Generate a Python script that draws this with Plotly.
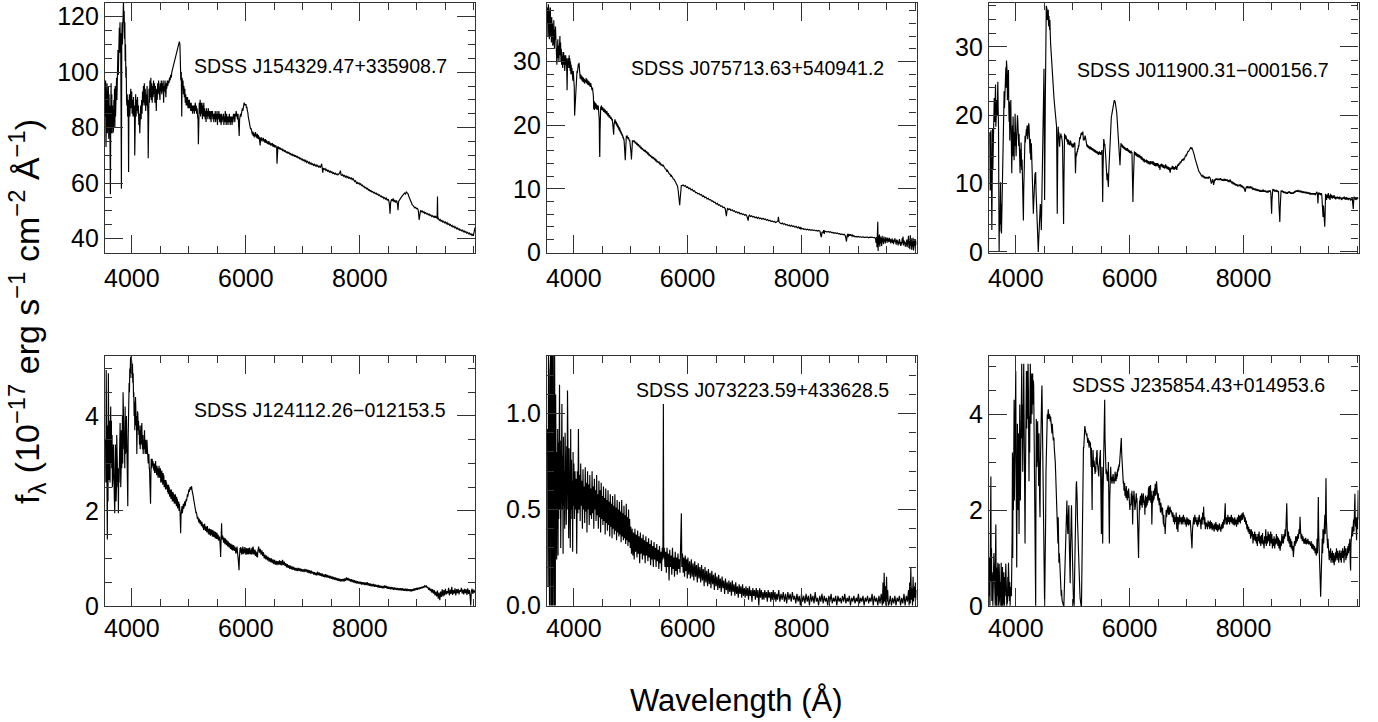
import plotly.graph_objects as go

W, H = 1378, 722
FONT = "Liberation Sans, Arial, Helvetica, sans-serif"

# ---------------- data (wavelength in Angstrom, flux in 1e-17 erg/s/cm2/A) ----------------
names = ["SDSS J154329.47+335908.7", "SDSS J075713.63+540941.2", "SDSS J011900.31\u2212000156.7",
         "SDSS J124112.26\u2212012153.5", "SDSS J073223.59+433628.5", "SDSS J235854.43+014953.6"]

x_range = [3530, 10020]
x_ticks = [4000, 6000, 8000]
y_ranges = [[34.85, 124.9], [-0.1, 39.2], [-0.15, 36.4], [-0.003, 5.27], [-0.003, 1.302], [-0.003, 5.22]]
y_dtick = [20, 10, 10, 2, 0.5, 2]
y_minor = [5, 2, 2, 0.5, 0.1, 0.5]

spec_1 = [
(3535,84),(3541,97),(3547,73),(3553,95),(3559,80),(3565,96),(3571,78),(3577,90),(3583,82),(3589,95),
(3595,76),(3601,92),(3607,79),(3613,88),(3619,70),(3625,56),(3631,86),(3637,96),(3643,78),(3649,92),
(3655,80),(3661,88),(3667,78),(3673,85),(3679,79),(3685,90),(3691,82),(3697,94),(3703,80),(3709,95),
(3715,84),(3721,92),(3727,86),(3733,98),(3739,90),(3745,102),(3751,94),(3757,108),(3763,99),(3769,112),
(3775,104),(3781,116),(3787,107),(3793,118),(3799,110),(3805,114),(3811,100),(3818,58),(3824,112),(3830,118),
(3836,110),(3842,124),(3848,116),(3854,126),(3860,118),(3866,122),(3872,112),(3878,118),(3884,104),(3890,110),
(3896,98),(3902,102),(3908,90),(3914,88),(3920,92),(3926,84),(3932,90),(3938,86),(3944,64),(3950,88),
(3958,92),(3966,84),(3974,90),(3982,94),(3990,87),(3998,93),(4006,85),(4014,90),(4022,84),(4030,91),
(4038,84),(4046,88),(4052,70),(4060,86),(4068,92),(4076,84),(4084,90),(4092,86),(4100,91),(4108,85),
(4116,88),(4124,81),(4132,85),(4140,78),(4148,84),(4156,88),(4164,83),(4172,90),(4180,85),(4188,93),
(4196,88),(4204,95),(4212,89),(4220,96),(4228,88),(4236,94),(4244,86),(4252,92),(4260,88),(4268,95),
(4276,90),(4283,84),(4288,69),(4294,88),(4302,94),(4310,89),(4318,97),(4326,91),(4334,98),(4342,90),
(4350,96),(4358,89),(4366,95),(4374,91),(4382,97),(4390,92),(4398,96),(4406,89),(4414,95),(4422,91),
(4430,86),(4438,94),(4446,90),(4454,96),(4462,92),(4470,97),(4478,93),(4486,95),(4494,90),(4502,96),
(4510,93),(4518,97),(4526,92),(4534,96),(4542,93),(4550,97),(4558,89),(4566,95),(4574,93),(4582,97),
(4590,94),(4598,91),(4606,96),(4614,94),(4622,97),(4632,95),(4642,97),(4652,96),(4662,98),(4672,97),
(4682,99),(4692,98),(4702,100),(4714,101),(4726,102),(4738,104),(4750,105),(4762,106),(4774,107),(4786,108),
(4798,108),(4810,109),(4822,110),(4834,111),(4844,110),(4852,104),(4860,97),(4868,100),(4876,84),(4883,98),
(4890,95),(4898,97),(4906,92),(4914,95),(4922,91),(4930,94),(4938,89),(4946,92),(4954,88),(4962,91),
(4970,88),(4978,91),(4986,87),(4994,90),(5002,87),(5010,90),(5018,87),(5026,89),(5034,86),(5042,89),
(5050,86),(5058,88),(5066,85),(5074,88),(5082,86),(5090,88),(5098,85),(5106,87),(5114,89),(5122,86),
(5130,88),(5138,85),(5146,87),(5154,84),(5162,83),(5168,74),(5175,84),(5183,89),(5191,85),(5199,90),
(5207,84),(5215,89),(5223,85),(5231,89),(5239,83),(5247,88),(5255,84),(5263,89),(5271,84),(5279,87),
(5287,83),(5295,86),(5303,82),(5311,87),(5319,84),(5327,86),(5335,83),(5343,87),(5351,84),(5359,86),
(5367,83),(5375,86),(5383,84),(5391,82),(5399,86),(5407,84),(5415,86),(5423,83),(5431,85),(5439,82),
(5447,85),(5455,83),(5463,86),(5471,82),(5479,85),(5487,83),(5495,86),(5503,81),(5511,85),(5519,83),
(5527,86),(5535,84),(5543,82),(5551,85),(5559,83),(5567,81),(5575,85),(5583,82),(5591,84),(5599,83),
(5607,85),(5615,81),(5623,84),(5631,82),(5639,86),(5647,83),(5655,81),(5663,85),(5671,82),(5679,84),
(5687,81),(5695,84),(5703,82),(5711,85),(5719,83),(5727,81),(5735,84),(5743,82),(5751,84),(5759,81),
(5767,84),(5775,82),(5783,85),(5791,83),(5799,85),(5807,82),(5815,85),(5823,84),(5831,86),(5839,84),
(5847,85),(5855,83),(5863,85),(5870,82),(5877,79),(5884,77),(5891,83),(5899,84),(5907,85),(5915,84),
(5923,86),(5931,85),(5939,87),(5947,86),(5955,88),(5963,87.5),(5971,89),(5979,88),(5987,88.5),(5995,88),
(6003,88.5),(6011,87),(6019,87.5),(6027,86),(6035,85.5),(6043,84),(6051,83),(6059,82),(6067,81),(6075,80.5),
(6083,79.5),(6091,79.8),(6099,78.5),(6107,79.2),(6115,77.5),(6123,78.6),(6131,77),(6139,78.2),(6147,76.5),(6155,77.8),
(6163,77),(6171,78.4),(6179,76.6),(6187,77.6),(6195,76.2),(6203,77.8),(6211,76),(6219,77.3),(6227,75.8),(6235,76.8),
(6243,75),(6251,73.6),(6259,76.4),(6267,75.4),(6275,76.5),(6283,75),(6291,76),(6299,75.4),(6307,76.3),(6315,75),
(6325,75.8),(6335,74.6),(6345,75.9),(6355,74.5),(6365,75.4),(6375,74.2),(6385,75),(6395,74),(6405,75.2),(6415,73.9),
(6425,74.6),(6435,73.5),(6445,74.3),(6455,73.6),(6465,74.4),(6475,73.2),(6485,74.1),(6495,73),(6505,73.8),(6515,72.9),
(6525,73.6),(6535,72.7),(6541,73.1),(6547,67),(6553,72.6),(6563,73.3),(6573,72.4),(6583,73),(6593,72.2),(6603,72.8),
(6618,72),(6633,72.5),(6648,71.6),(6663,72.1),(6678,71.3),(6693,71.8),(6708,70.9),(6723,71.4),(6738,70.7),(6753,71.2),
(6768,70.4),(6783,70.8),(6798,70),(6813,70.6),(6828,69.8),(6843,70.3),(6858,69.5),(6873,70),(6888,69.3),(6903,69.8),
(6918,69),(6933,69.4),(6948,68.6),(6963,69.1),(6978,68.3),(6993,68.8),(7008,68),(7023,68.5),(7038,67.8),(7053,68.2),
(7068,67.5),(7083,67.9),(7098,67.2),(7113,67.6),(7128,66.9),(7143,67.3),(7158,66.6),(7173,67.1),(7188,66.4),(7203,66.8),
(7218,66.2),(7233,66.6),(7248,66),(7263,66.4),(7278,65.8),(7293,66.1),(7308,65.6),(7320,66.9),(7330,67),(7340,65.5),
(7350,63.8),(7360,65.4),(7375,65),(7390,65.3),(7405,64.6),(7420,64.9),(7435,64.3),(7450,64.6),(7465,64),(7480,64.4),
(7495,63.8),(7510,64.1),(7525,63.5),(7540,63.8),(7555,63.3),(7570,63.6),(7585,63.1),(7600,63.4),(7615,63),(7630,63.3),
(7645,63.6),(7660,64.5),(7670,63),(7685,62.8),(7700,63.1),(7715,62.5),(7730,62.8),(7745,62.2),(7760,62.6),(7775,62),
(7790,62.4),(7805,61.8),(7820,62.1),(7835,61.6),(7850,61.9),(7865,61.3),(7880,61.7),(7895,61.1),(7910,60.6),(7925,60.9),
(7940,60),(7955,60.3),(7970,59.7),(7985,60.2),(8000,59.5),(8015,59.8),(8030,59.1),(8045,59.3),(8060,58.7),(8075,58.9),
(8090,58.3),(8105,58.5),(8120,57.9),(8135,58.1),(8150,57.5),(8165,57.7),(8180,57.1),(8195,57.3),(8210,56.8),(8225,57),
(8240,56.5),(8255,56.7),(8270,56.2),(8285,56.4),(8300,55.9),(8315,56.1),(8330,55.6),(8345,55.8),(8360,55.2),(8375,55.4),
(8390,54.9),(8405,55.1),(8420,54.5),(8435,54.8),(8450,54.2),(8465,54.6),(8480,53.9),(8495,54.3),(8510,53.5),(8520,52),
(8530,49),(8540,53),(8555,54.2),(8570,53.6),(8585,54.5),(8600,53.2),(8615,54),(8630,53),(8645,53.8),(8660,52.5),
(8670,50.3),(8680,53.4),(8695,54.1),(8710,54.4),(8725,54.9),(8740,55.3),(8755,55.6),(8770,56),(8785,56.4),(8800,56.1),
(8815,56.8),(8830,56.5),(8845,56.2),(8860,55.2),(8875,54.4),(8890,53.5),(8905,52.8),(8920,52.2),(8935,51.9),(8950,51.5),
(8965,51.1),(8980,51.3),(8995,50.8),(9010,50.9),(9025,50.3),(9040,46.8),(9050,49.6),(9065,50.2),(9080,49.7),(9095,50),
(9110,49.4),(9125,49.7),(9140,49.1),(9155,49.4),(9170,48.9),(9185,49.1),(9200,48.6),(9215,48.9),(9230,48.3),(9245,48.6),
(9260,48),(9275,48.3),(9290,47.8),(9305,48.1),(9320,47.5),(9330,48.2),(9340,47.6),(9355,47.4),(9362,55.2),(9368,47),
(9380,47.3),(9395,46.6),(9410,46.9),(9425,46.3),(9440,46.6),(9455,46),(9470,46.3),(9485,45.7),(9500,46),(9515,45.4),
(9530,45.8),(9545,45.1),(9560,45.4),(9575,44.8),(9590,45.1),(9605,44.5),(9620,44.8),(9635,44.2),(9650,44.5),(9665,43.9),
(9680,44.2),(9695,43.6),(9710,43.9),(9725,43.3),(9740,43.6),(9755,43),(9770,43.3),(9785,42.8),(9800,43.1),(9815,42.5),
(9830,42.8),(9845,42.3),(9860,42.6),(9875,42),(9890,42.3),(9905,41.8),(9920,42.1),(9935,41.5),(9950,41.8),(9965,41.2),
(9980,41.5),(9990,41),(10000,42.5),(10010,43.5),(10020,44)]

spec_2 = [
(3535,36),(3541,38.5),(3547,34),(3553,39),(3559,35.5),(3565,38),(3571,33.5),(3577,37.5),(3583,35),(3589,38.5),
(3595,34),(3601,36.5),(3607,33),(3613,37),(3619,34.5),(3625,36),(3631,32.5),(3637,35.5),(3643,33),(3649,36.5),
(3655,34),(3661,32),(3667,35),(3673,33.5),(3679,35.5),(3685,32),(3691,34),(3697,31),(3703,29.5),(3709,33),
(3715,31),(3721,33.5),(3727,30.5),(3733,32.5),(3739,30),(3745,33.5),(3751,31.5),(3757,34),(3763,31),(3769,33),
(3775,30),(3781,32),(3787,29.5),(3793,31.5),(3799,30.5),(3805,29),(3811,31.5),(3817,30),(3823,31.5),(3829,29.5),
(3835,31),(3841,28.5),(3847,30.5),(3853,29),(3859,31),(3865,29.5),(3871,30.5),(3877,28.5),(3883,25.5),(3889,29),
(3895,30.5),(3901,29),(3907,30.5),(3913,29.5),(3919,31),(3925,29),(3931,30.5),(3937,28.5),(3943,30),(3949,28),
(3955,29.5),(3961,28),(3967,29),(3973,27.5),(3979,29),(3985,27),(3991,28.5),(3997,27),(4003,28),(4009,26),
(4015,21.5),(4021,22.5),(4027,25.5),(4033,26.5),(4039,27.5),(4045,27),(4051,28),(4057,28.5),(4063,28.2),(4069,29),
(4075,28.7),(4081,29.6),(4087,29.2),(4093,29.8),(4099,29),(4105,28.2),(4113,27.3),(4121,28),(4129,27.2),(4137,27.8),
(4145,27),(4153,27.6),(4161,26.8),(4169,27.5),(4177,26.7),(4185,27.3),(4193,26.5),(4201,27.1),(4209,26.8),(4217,27.4),
(4225,26.6),(4233,27.2),(4241,26.4),(4249,27),(4257,26.3),(4265,26.9),(4273,26.2),(4281,26.7),(4289,26),(4297,26.6),
(4305,25.8),(4313,26.3),(4321,25.5),(4329,25.9),(4337,25.2),(4345,24.5),(4351,22.5),(4357,23.8),(4363,22.4),(4369,23.6),
(4375,22.6),(4381,23.4),(4387,22.7),(4393,23.3),(4399,22.5),(4405,23.2),(4411,22.4),(4417,23),(4423,22.6),(4429,23.1),
(4435,22.5),(4441,22.8),(4447,21),(4453,16),(4457,15),(4462,19),(4467,22.3),(4473,22.9),(4479,22.4),(4485,23.1),
(4491,22.5),(4497,23),(4503,22.3),(4509,22.8),(4515,22.2),(4521,22.7),(4527,22.1),(4533,22.6),(4539,22),(4545,22.5),
(4551,21.9),(4557,22.4),(4563,21.8),(4569,22.3),(4575,21.7),(4581,22.2),(4587,21.6),(4593,22),(4599,21.4),(4605,21.9),
(4611,21.3),(4617,21.7),(4623,21.2),(4629,21.6),(4635,21.1),(4641,21.5),(4647,21),(4653,21.3),(4659,20.8),(4665,21.2),
(4671,20.7),(4677,21),(4683,20.5),(4689,20.2),(4695,19.5),(4701,18.5),(4707,20),(4713,20.8),(4719,20.4),(4725,20.9),
(4731,20.3),(4737,20.7),(4743,20.1),(4749,20.5),(4755,19.9),(4761,20.3),(4767,19.7),(4773,20.1),(4779,19.5),(4785,19.9),
(4791,19.3),(4797,19.7),(4803,19.1),(4809,19.5),(4815,18.9),(4821,19.2),(4827,18.7),(4833,19),(4839,18.5),(4845,18.7),
(4851,18.3),(4857,18.5),(4863,18),(4869,18.2),(4875,17.7),(4881,17.9),(4887,17.2),(4893,16.5),(4899,15.5),(4905,14.5),
(4911,15.8),(4917,17.8),(4923,18.3),(4929,18),(4935,18.4),(4941,18.1),(4947,18.2),(4953,17.8),(4959,18.1),(4965,17.7),
(4971,17.9),(4977,17.5),(4983,17.7),(4989,17.3),(4995,17.1),(5001,16.5),(5007,15.5),(5013,14.6),(5019,15.9),(5025,17.2),
(5031,17.6),(5037,17.4),(5043,17.6),(5055,17.4),(5067,17.5),(5079,17.2),(5091,17.3),(5103,17),(5115,17.1),(5127,16.8),
(5139,16.9),(5151,16.6),(5163,16.7),(5175,16.4),(5187,16.5),(5199,16.2),(5211,16.3),(5223,16),(5235,16.1),(5247,15.9),
(5259,16),(5271,15.7),(5283,15.8),(5295,15.5),(5307,15.6),(5319,15.3),(5331,15.4),(5343,15.1),(5355,15.2),(5367,14.9),
(5379,15),(5391,14.8),(5403,14.9),(5415,14.6),(5427,14.7),(5439,14.4),(5451,14.5),(5463,14.2),(5475,14.3),(5487,14.1),
(5499,14.2),(5511,13.9),(5523,14),(5535,13.7),(5547,13.8),(5559,13.6),(5571,13.7),(5583,13.4),(5595,13.4),(5607,13.1),
(5619,13.1),(5631,12.8),(5643,12.9),(5655,12.6),(5667,12.6),(5679,12.3),(5691,12.3),(5703,12),(5715,12.1),(5727,11.8),
(5739,11.8),(5751,11.5),(5763,11.5),(5775,11.3),(5787,11.2),(5799,11),(5811,10.7),(5823,10.4),(5833,9.8),(5841,9),
(5849,8),(5855,7.6),(5861,7.4),(5867,8.2),(5873,9.4),(5881,10.2),(5889,10.5),(5901,10.5),(5921,10.6),(5941,10.4),
(5961,10.5),(5981,10.2),(6001,10.3),(6021,10),(6041,10.1),(6061,9.8),(6081,9.9),(6101,9.6),(6121,9.7),(6141,9.4),
(6161,9.4),(6181,9.2),(6201,9.25),(6221,9),(6241,9.1),(6261,8.8),(6281,8.9),(6301,8.6),(6321,8.7),(6341,8.4),
(6361,8.5),(6381,8.25),(6401,8.3),(6421,8.05),(6441,8.1),(6461,7.85),(6481,7.9),(6501,7.6),(6521,7.7),(6541,7.4),
(6561,7.5),(6581,7.25),(6601,7.3),(6621,7.05),(6641,7.1),(6661,6.85),(6671,6.2),(6681,5.7),(6691,6.5),(6701,6.95),
(6721,6.7),(6741,6.85),(6761,6.6),(6781,6.7),(6801,6.45),(6821,6.55),(6841,6.3),(6861,6.4),(6881,6.2),(6901,6.3),
(6921,6.05),(6941,6.15),(6961,5.95),(6981,6.05),(7001,5.85),(7021,5.95),(7041,5.7),(7053,5.3),(7063,5),(7073,5.6),
(7085,5.85),(7105,5.65),(7125,5.75),(7145,5.55),(7165,5.65),(7185,5.45),(7205,5.55),(7225,5.35),(7245,5.5),(7265,5.3),
(7285,5.4),(7305,5.2),(7325,5.35),(7345,5.15),(7365,5.25),(7385,5.05),(7405,5.15),(7425,4.95),(7445,5.05),(7465,4.85),
(7485,4.95),(7505,4.8),(7525,4.85),(7545,4.7),(7565,4.75),(7585,4.9),(7595,5.6),(7605,4.8),(7625,4.6),(7645,4.5),
(7665,4.6),(7685,4.4),(7705,4.5),(7725,4.3),(7745,4.4),(7765,4.2),(7785,4.3),(7805,4.1),(7825,4.25),(7845,4.05),
(7865,4.15),(7885,3.95),(7905,4.1),(7925,3.85),(7945,4),(7965,3.7),(7975,4),(7985,3.6),(7995,3.9),(8005,3.7),
(8025,3.75),(8045,3.6),(8065,3.7),(8085,3.55),(8105,3.65),(8125,3.5),(8145,3.6),(8165,3.45),(8185,3.55),(8205,3.45),
(8225,3.5),(8245,3.4),(8265,3.45),(8285,3.35),(8305,3.45),(8325,3.3),(8340,2.6),(8350,2.4),(8360,3.2),(8375,3.1),
(8390,3.5),(8400,2.9),(8410,3.35),(8430,3.3),(8450,3.2),(8470,3.3),(8490,3.15),(8510,3.25),(8530,3.1),(8550,3.15),
(8570,3),(8590,3.1),(8610,2.95),(8630,3.05),(8650,2.9),(8670,2.95),(8690,2.8),(8710,2.9),(8730,2.75),(8750,2.85),
(8770,2.6),(8780,2.2),(8790,1.7),(8800,2.5),(8810,2.9),(8820,2.4),(8830,2.9),(8845,2.6),(8860,2.85),(8875,2.55),
(8890,2.75),(8905,2.5),(8920,2.65),(8940,2.45),(8960,2.5),(8980,2.4),(9000,2.5),(9020,2.4),(9040,2.45),(9060,2.35),
(9080,2.45),(9100,2.35),(9120,2.4),(9140,2.35),(9160,2.4),(9180,2.3),(9200,2.4),(9220,2.35),(9240,2.4),(9260,2.3),
(9280,2.35),(9300,2.2),(9310,1.5),(9318,2.4),(9326,0.8),(9334,3.2),(9340,4.8),(9346,0.2),(9352,2.6),(9360,1.2),
(9368,2.8),(9376,0.9),(9384,2.5),(9392,1.4),(9400,2.3),(9408,1),(9416,2.6),(9424,1.6),(9432,2.2),(9440,1.3),
(9448,2.5),(9456,1.7),(9464,2.1),(9472,1.4),(9480,2.4),(9488,1.8),(9496,2.2),(9504,1.5),(9512,2.3),(9520,1.8),
(9528,2),(9536,1.6),(9544,2.3),(9552,1.7),(9560,2.1),(9568,1.4),(9576,2),(9584,1.6),(9592,2.2),(9600,1.5),
(9608,1.9),(9616,1.3),(9624,2),(9632,1.6),(9640,2.2),(9648,1.5),(9656,1.8),(9664,1.2),(9672,2),(9680,1.5),
(9688,1.9),(9696,1.1),(9704,1.7),(9712,1.3),(9720,2.1),(9728,1.4),(9736,1.8),(9744,1),(9752,1.6),(9760,1.2),
(9768,2.2),(9776,1.5),(9784,2.5),(9792,1.1),(9800,1.9),(9808,1.3),(9816,1.7),(9824,0.9),(9832,1.6),(9840,1.1),
(9848,2),(9856,0.8),(9864,1.6),(9872,1.2),(9880,2.6),(9888,0.7),(9896,1.8),(9904,0.5),(9912,2.7),(9920,1),
(9928,2.2),(9936,0.4),(9944,1.5),(9952,0.8),(9960,2.3),(9968,0.3),(9976,1.8),(9984,1),(9992,2),(10000,0.6),
(10008,1.9),(10016,1.2)]

spec_3 = [
(3545,17.5),(3552,9),(3558,14.5),(3564,17.8),(3570,5),(3575,12),(3580,3.2),(3586,10),(3592,18),(3598,12),
(3604,14.9),(3610,20),(3616,17),(3622,22.5),(3628,19),(3633,23.7),(3639,20),(3645,24.5),(3650,18.3),(3656,21),
(3662,19),(3668,22.2),(3674,20),(3679,24),(3685,24.9),(3691,21),(3697,18.3),(3702,9),(3708,0),(3714,6),
(3720,3),(3726,8),(3732,10.2),(3738,4),(3744,7),(3749,2.7),(3755,6),(3761,3.5),(3767,8),(3773,14),
(3778,18),(3784,22.7),(3790,20.5),(3796,23.5),(3802,21),(3808,22.7),(3814,25),(3820,23),(3826,27),(3831,24),
(3837,28),(3843,25),(3848,26.5),(3854,22.2),(3860,25),(3866,23.5),(3872,26.6),(3878,21),(3884,19),(3889,22),
(3895,16.3),(3901,19),(3907,20),(3913,22.2),(3919,18),(3924,15),(3930,11.5),(3936,16),(3942,18.5),(3947,14),
(3953,19.8),(3959,17),(3965,15),(3971,13.4),(3977,17.5),(3982,15.5),(3988,20.2),(3994,17),(4000,18.5),(4006,14),
(4012,15.9),(4018,18),(4024,16.5),(4030,20),(4035,19.3),(4041,16),(4047,18.5),(4052,15.5),(4058,17.3),(4064,15),
(4070,13),(4076,11.5),(4082,15),(4088,12.5),(4093,16),(4099,14.9),(4105,12),(4111,13.5),(4117,11),(4123,8),
(4128,6),(4134,4.6),(4140,9),(4146,12),(4152,15.4),(4157,15.4),(4163,17),(4169,16),(4175,17.3),(4181,16.5),
(4187,18),(4193,17),(4199,18.5),(4204,18.3),(4210,16.5),(4216,18),(4222,17),(4228,18.8),(4233,18.5),(4239,16),
(4245,17.5),(4251,14.4),(4257,16.5),(4263,13.5),(4268,15),(4274,15.9),(4280,13.5),(4286,11),(4292,12),(4298,8.5),
(4303,7),(4309,5.6),(4315,7),(4321,9),(4326,8.5),(4332,10),(4338,11.5),(4344,10),(4350,11.7),(4356,9),
(4361,8),(4367,6.6),(4373,5),(4379,4.5),(4385,3.7),(4391,1.5),(4396,0),(4402,1.5),(4408,3.5),(4414,2.7),
(4420,4),(4426,5.5),(4431,7),(4437,6.6),(4443,4.5),(4449,3.2),(4455,6),(4460,9),(4466,11.5),(4472,14),
(4478,17),(4484,21.2),(4490,24),(4496,26.8),(4501,18),(4507,7.6),(4513,15),(4519,22),(4525,26.1),(4531,31),
(4536,36),(4542,34),(4548,35.5),(4554,33.9),(4560,35),(4566,34),(4571,35.4),(4577,33),(4583,34.5),(4589,33.4),
(4595,32.5),(4600,33.9),(4606,32),(4612,30.5),(4618,29.5),(4624,28.5),(4630,27.5),(4635,27),(4641,26.1),(4647,25),
(4653,24.5),(4659,23.5),(4664,23),(4670,22.7),(4676,22),(4682,21.5),(4688,21),(4694,20.8),(4700,20.2),(4706,19.5),
(4711,19),(4717,18.3),(4723,12),(4729,5.6),(4735,12),(4740,17),(4746,18.3),(4752,16.5),(4758,17.5),(4764,16),
(4770,15.4),(4776,16.5),(4781,17),(4787,16.5),(4793,17.3),(4799,16.8),(4805,17),(4810,16.5),(4816,16.3),(4822,15.5),
(4828,13),(4834,8),(4840,4.1),(4846,10),(4852,15.5),(4857,17.3),(4863,16.6),(4869,17.1),(4875,16.5),(4881,17),
(4886,16.8),(4892,16.2),(4898,16.7),(4904,16.1),(4910,16.5),(4915,15.7),(4921,15.9),(4927,16.4),(4933,15.8),(4939,16.3),
(4945,15.6),(4950,16.1),(4956,15.7),(4962,16.3),(4968,15.6),(4974,16.1),(4979,15.5),(4985,15.9),(4991,15.3),(4997,15.7),
(5003,15.4),(5009,15.8),(5015,15.3),(5020,15.9),(5026,15.5),(5032,16),(5038,15.9),(5043,14),(5049,11.5),(5055,13),
(5061,14.5),(5067,14),(5073,14.4),(5079,14.8),(5085,14.6),(5090,15.2),(5096,15),(5102,15.6),(5108,15.4),(5114,16),
(5120,16.2),(5125,16.8),(5131,16.5),(5137,17),(5143,16.8),(5149,17.4),(5154,17.3),(5160,17.1),(5166,17.5),(5172,17.2),
(5178,17.6),(5184,16.8),(5189,16.3),(5195,16.5),(5201,16.3),(5207,16.7),(5213,16.5),(5218,17),(5224,16.8),(5230,16.2),
(5236,15.9),(5242,16.1),(5247,15.6),(5253,15.4),(5259,15.7),(5265,15.3),(5271,15.6),(5277,15.2),(5283,15.5),(5289,15.1),
(5295,15.4),(5301,15),(5307,15.3),(5312,15.4),(5320,15),(5328,15.3),(5336,14.9),(5344,15.2),(5352,14.8),(5360,15.1),
(5368,14.7),(5376,15),(5384,14.6),(5392,14.9),(5399,14.9),(5407,14.5),(5415,14.8),(5423,14.4),(5431,14.7),(5439,14.3),
(5447,14.6),(5455,14.2),(5461,14.4),(5469,14.7),(5477,14.3),(5485,14.6),(5493,14.2),(5501,14.5),(5509,14.9),(5516,14.9),
(5521,11),(5527,7.3),(5533,12),(5539,15),(5545,16.5),(5551,16.3),(5557,15.5),(5563,15.8),(5569,15.2),(5574,14.9),
(5580,14),(5586,13),(5592,12),(5597,11),(5603,10.5),(5609,11.5),(5615,10.5),(5621,10),(5627,9.5),(5633,11.5),
(5639,13),(5645,14.5),(5650,15.4),(5656,17),(5662,18),(5668,19),(5674,19.5),(5679,19.8),(5685,20),(5691,20.3),
(5697,20.5),(5703,20.8),(5708,20.7),(5714,21.2),(5720,21.6),(5726,22),(5731,22.2),(5737,22),(5743,22.1),(5749,21.8),
(5755,21.5),(5760,21.3),(5766,21.2),(5772,20.5),(5778,19.8),(5784,19),(5790,18.3),(5796,17.5),(5801,16.5),(5807,16),
(5813,15.5),(5819,14.9),(5825,13.5),(5831,12.7),(5837,14),(5842,15.5),(5848,15.9),(5856,15.6),(5864,15.4),(5872,15.7),
(5880,15.2),(5888,15.5),(5895,15.1),(5903,15.4),(5911,15),(5919,15.3),(5927,14.9),(5935,15.2),(5943,14.8),(5953,14.9),
(5961,15.2),(5969,14.7),(5977,15),(5985,14.6),(5993,14.9),(6001,14.5),(6009,14.8),(6017,14.4),(6025,14.8),(6033,14.5),
(6041,14.6),(6047,12),(6052,9),(6058,7.3),(6064,10),(6070,13),(6075,14.4),(6083,14.7),(6091,14.2),(6099,14.6),
(6107,14.1),(6115,14.5),(6123,14),(6131,14.4),(6139,13.9),(6147,14.3),(6157,14.1),(6167,13.8),(6177,14.2),(6187,13.7),
(6197,14),(6207,13.5),(6217,13.9),(6227,13.4),(6237,13.7),(6247,13.2),(6257,13.6),(6267,13.1),(6274,13.4),(6284,13.2),
(6294,13.5),(6304,13),(6314,13.4),(6324,12.9),(6334,13.3),(6344,12.8),(6354,13.2),(6364,12.8),(6374,13.3),(6384,12.9),
(6390,13.2),(6400,12.8),(6410,13.3),(6420,12.7),(6430,13.1),(6440,12.6),(6450,13),(6460,12.5),(6470,13),(6480,12.6),
(6490,13),(6500,12.5),(6507,12.9),(6515,12.3),(6525,12.7),(6533,12),(6541,12.8),(6551,12.5),(6561,12.9),(6571,12.4),
(6581,12.8),(6591,12.3),(6601,12.7),(6611,12.2),(6623,12.4),(6633,12.8),(6643,12.2),(6653,12.6),(6663,12.1),(6673,12.5),
(6683,12),(6693,12.4),(6703,11.9),(6713,11.6),(6721,12.3),(6731,12.1),(6740,12.2),(6750,12.6),(6760,12.1),(6770,12.5),
(6780,12),(6790,12.4),(6800,12.1),(6810,12.6),(6820,12.2),(6828,12),(6838,12.5),(6848,12.8),(6858,12.6),(6868,13),
(6878,12.8),(6888,13.2),(6898,13),(6908,13.4),(6915,13.4),(6925,13.5),(6935,13.4),(6945,13.6),(6955,13.5),(6965,13.7),
(6975,13.9),(6985,14.2),(6995,14.1),(7005,14.4),(7015,14.5),(7025,14.7),(7035,14.7),(7045,14.9),(7055,15),(7065,15.1),
(7075,15.3),(7085,15.1),(7095,15.2),(7105,15),(7115,14.8),(7125,14.5),(7135,14.2),(7145,13.8),(7155,13.5),(7165,13.2),
(7175,12.8),(7185,12.5),(7195,12.2),(7205,12),(7215,11.8),(7225,11.7),(7235,11.5),(7245,11.4),(7255,11.3),(7265,11.1),
(7275,11.2),(7285,11),(7295,11.1),(7305,10.9),(7315,11),(7325,10.8),(7335,10.9),(7345,10.8),(7355,10.9),(7365,10.8),
(7375,10.9),(7385,10.8),(7395,11),(7405,10.9),(7415,10.8),(7425,10.4),(7435,10),(7445,10.2),(7455,10.6),(7465,10.5),
(7475,9.8),(7485,10.4),(7495,10.6),(7505,10.5),(7515,10.7),(7525,10.6),(7535,10.7),(7545,10.5),(7555,10.7),(7565,10.5),
(7575,10.7),(7585,10.5),(7595,10.8),(7605,10.5),(7615,10.7),(7625,10.4),(7635,10.6),(7645,10.4),(7655,10.6),(7665,10.5),
(7675,10.7),(7685,10.4),(7695,10.6),(7705,10.4),(7715,10.6),(7725,10.3),(7735,10.5),(7745,10.2),(7755,10.4),(7765,10.6),
(7775,10.2),(7785,10.3),(7795,10.1),(7805,10.2),(7815,10),(7825,10.1),(7835,9.9),(7845,10),(7855,9.8),(7865,9.9),
(7875,9.7),(7885,9.9),(7895,9.6),(7905,9.8),(7915,9.6),(7925,9.8),(7935,9.7),(7945,9.8),(7955,9.6),(7965,9.7),
(7975,9.5),(7985,9.6),(7995,9.4),(8005,9.5),(8015,9.2),(8025,8.9),(8032,8.8),(8040,9.3),(8050,9.5),(8060,9.4),
(8070,9.6),(8080,9.4),(8090,9.5),(8100,9.3),(8110,9.5),(8120,9.4),(8130,9.6),(8140,9.3),(8150,9.4),(8160,9.2),
(8170,9.3),(8180,9.1),(8190,9.3),(8200,9.1),(8210,9.2),(8220,9),(8230,9.2),(8240,9),(8250,9.1),(8260,8.9),
(8270,9.1),(8280,8.9),(8290,9),(8300,8.8),(8310,9),(8320,8.8),(8330,9),(8340,8.9),(8350,9.1),(8360,8.8),
(8370,9),(8380,8.8),(8390,9),(8400,8.7),(8410,8.9),(8420,8.7),(8430,8.9),(8440,8.8),(8450,9),(8460,8.8),
(8470,9),(8480,8.6),(8488,7),(8494,5.6),(8500,7.5),(8507,9),(8515,9.2),(8525,9),(8535,9.1),(8545,8.9),
(8555,9),(8565,8.9),(8575,9),(8585,8.8),(8595,9),(8605,8.8),(8615,8.9),(8622,7),(8630,5.5),(8638,4.4),
(8645,6.5),(8652,8.5),(8660,9),(8670,8.8),(8680,9),(8690,8.7),(8700,8.9),(8710,8.6),(8720,8.8),(8730,8.6),
(8740,8.8),(8750,8.5),(8760,8.7),(8770,8.5),(8780,8.8),(8790,8.6),(8800,8.9),(8810,8.6),(8820,8.8),(8830,8.5),
(8840,8.7),(8850,8.5),(8860,8.7),(8870,8.5),(8880,8.8),(8890,8.6),(8900,8.9),(8910,8.7),(8920,9),(8930,8.8),
(8940,9),(8950,8.8),(8960,9),(8970,8.9),(8980,8.8),(8990,9),(9000,8.8),(9010,8.9),(9020,8.7),(9030,8.9),
(9040,8.7),(9050,8.8),(9060,8.6),(9070,8.8),(9080,8.6),(9090,8.8),(9100,8.6),(9110,8.7),(9120,8.6),(9130,8.7),
(9140,8.5),(9150,8.7),(9160,8.5),(9170,8.6),(9180,8.4),(9190,8.6),(9200,8.4),(9210,8.6),(9220,8.4),(9230,8.6),
(9240,8.4),(9250,8.6),(9260,8.3),(9270,8.5),(9280,8.6),(9290,8.8),(9300,8.3),(9308,7.1),(9315,8.5),(9325,8.7),
(9335,8.4),(9345,8.6),(9355,8.3),(9365,8.6),(9375,8.4),(9383,7),(9390,5.5),(9397,5.1),(9405,6.8),(9413,5),
(9420,4),(9427,3.7),(9434,5.5),(9441,8.5),(9450,8.2),(9460,7.6),(9470,8.4),(9480,7.9),(9490,8.6),(9500,7.8),
(9510,8.3),(9520,7.6),(9530,8.5),(9540,7.9),(9550,8.3),(9560,7.8),(9570,8.2),(9580,7.9),(9590,8.3),(9600,7.8),
(9610,8.1),(9620,7.7),(9630,8),(9640,7.9),(9650,8.1),(9660,7.8),(9670,8),(9680,7.7),(9690,8.1),(9700,7.8),
(9710,8),(9720,7.6),(9730,7.9),(9740,7.7),(9750,8),(9760,7.8),(9770,8.1),(9780,7.7),(9790,8),(9800,7.6),
(9810,8),(9820,7.7),(9830,7.9),(9840,7.6),(9850,7.9),(9860,7.7),(9870,7.9),(9880,7.5),(9890,7.8),(9900,7.6),
(9910,7.9),(9920,6.8),(9928,6.3),(9936,7.6),(9945,8.1),(9955,7.7),(9965,8),(9975,7.6),(9985,7.9),(9995,7.7),
(10005,8),(10015,7.8)]

spec_4 = [
(3540,3.5),(3546,2.6),(3551,4.97),(3556,3.2),(3561,4.6),(3566,2.8),(3571,1.4),(3577,3.8),(3583,2.2),(3589,4.9),
(3595,3.3),(3601,2.65),(3607,3.9),(3613,3.5),(3619,2.6),(3625,3.8),(3630,4.2),(3636,3),(3642,3.9),(3648,2.9),
(3654,3.6),(3660,2.5),(3665,3.35),(3671,2.8),(3677,3.4),(3683,2.3),(3689,2.9),(3695,2.2),(3701,1.95),(3707,2.8),
(3712,3.4),(3718,3.1),(3724,2.2),(3730,2.45),(3736,3.6),(3742,2.8),(3748,3.5),(3754,2.5),(3760,2.9),(3765,1.95),
(3771,2.8),(3777,2.6),(3783,3.5),(3789,2.9),(3795,3.85),(3801,3.2),(3806,2.5),(3812,2.8),(3818,3.7),(3824,2.9),
(3830,3.35),(3836,4),(3841,3),(3847,4.5),(3853,3.4),(3859,3.9),(3865,3.3),(3871,3.6),(3877,2.9),(3883,4.2),
(3889,3.2),(3895,3.8),(3900,3.3),(3906,4),(3912,3.1),(3918,3.85),(3924,2.7),(3930,2.1),(3936,3.5),(3942,4.1),
(3947,4.35),(3953,4.7),(3959,4.5),(3965,5),(3971,4.8),(3977,5.2),(3982,5.25),(3988,4.9),(3994,5.2),(4000,5.1),
(4006,4.8),(4012,5.1),(4018,4.7),(4024,4.9),(4030,4.4),(4035,4.5),(4041,4),(4047,4.3),(4053,3.7),(4059,4),
(4065,4.4),(4070,4.2),(4076,3.8),(4082,4),(4088,3.2),(4094,3.6),(4100,4.1),(4106,4.05),(4112,3.7),(4118,3.9),
(4124,3.6),(4129,3.8),(4135,3.4),(4141,3.7),(4147,3.3),(4153,3.5),(4159,3.8),(4165,3.4),(4171,3.6),(4176,3.85),
(4182,3.5),(4188,3.3),(4194,3.6),(4200,3.2),(4206,3.5),(4212,3.3),(4218,3.6),(4223,3.7),(4229,3.4),(4235,3.2),
(4241,3.5),(4247,3.2),(4253,3.4),(4259,3.2),(4265,3.5),(4270,3.3),(4276,3.1),(4282,3.3),(4288,3),(4294,3.07),
(4300,3.2),(4306,2.9),(4311,2.9),(4317,2.6),(4323,2.4),(4329,2.15),(4335,2.7),(4341,3.1),(4346,3),(4352,2.9),
(4358,3.1),(4364,2.95),(4370,3.05),(4376,2.9),(4382,3.05),(4388,2.85),(4394,3),(4400,2.8),(4406,3),(4412,2.85),
(4418,3.05),(4424,2.8),(4430,2.95),(4436,2.75),(4442,2.95),(4448,2.8),(4454,2.9),(4460,2.7),(4466,2.9),(4472,2.75),
(4478,2.95),(4484,2.7),(4490,2.85),(4496,2.7),(4502,2.9),(4508,2.6),(4514,2.8),(4520,2.65),(4526,2.85),(4532,2.6),
(4538,2.8),(4544,2.55),(4550,2.8),(4556,2.6),(4562,2.75),(4568,2.5),(4574,2.7),(4580,2.55),(4586,2.65),(4592,2.45),
(4598,2.65),(4604,2.5),(4610,2.6),(4616,2.45),(4622,2.55),(4628,2.4),(4634,2.55),(4640,2.35),(4646,2.55),(4652,2.4),
(4658,2.5),(4664,2.3),(4669,2.5),(4675,2.35),(4681,2.45),(4687,2.25),(4693,2.45),(4699,2.3),(4705,2.4),(4711,2.2),
(4717,2.4),(4723,2.25),(4728,2.37),(4734,2.2),(4740,2.35),(4746,2.15),(4752,2.3),(4758,2.2),(4764,2.35),(4770,2.15),
(4776,2.3),(4782,2.1),(4787,2.3),(4793,2.15),(4799,2.25),(4805,2.05),(4811,2.2),(4817,2.1),(4823,2.2),(4829,2),
(4835,2.15),(4841,2.05),(4846,2),(4851,1.8),(4857,1.53),(4863,1.9),(4869,2.05),(4875,2),(4881,2.1),(4887,1.95),
(4893,2.1),(4899,2),(4905,2.15),(4911,2.05),(4917,2.15),(4923,2.05),(4929,2.2),(4935,2.1),(4941,2.2),(4947,2.15),
(4953,2.25),(4959,2.2),(4965,2.3),(4971,2.25),(4977,2.35),(4983,2.3),(4989,2.4),(4995,2.35),(5001,2.45),(5007,2.4),
(5013,2.45),(5019,2.42),(5025,2.5),(5031,2.45),(5037,2.5),(5043,2.47),(5049,2.52),(5055,2.45),(5061,2.42),(5067,2.35),
(5073,2.38),(5079,2.3),(5085,2.25),(5091,2.2),(5097,2.15),(5103,2.08),(5109,2.1),(5115,2),(5121,2.03),(5127,1.95),
(5133,1.98),(5139,1.88),(5145,1.92),(5151,1.83),(5157,1.88),(5163,1.78),(5169,1.85),(5175,1.76),(5181,1.84),(5187,1.74),
(5193,1.82),(5199,1.72),(5205,1.8),(5211,1.7),(5217,1.78),(5223,1.68),(5229,1.77),(5235,1.66),(5241,1.75),(5247,1.65),
(5253,1.72),(5259,1.6),(5265,1.7),(5271,1.62),(5277,1.73),(5283,1.6),(5289,1.68),(5295,1.58),(5301,1.67),(5307,1.57),
(5313,1.66),(5319,1.55),(5325,1.68),(5331,1.55),(5337,1.65),(5343,1.52),(5349,1.62),(5355,1.5),(5361,1.63),(5367,1.52),
(5373,1.6),(5379,1.48),(5385,1.62),(5391,1.5),(5397,1.6),(5403,1.47),(5409,1.58),(5415,1.46),(5421,1.6),(5427,1.48),
(5433,1.56),(5439,1.45),(5445,1.57),(5451,1.44),(5457,1.55),(5463,1.42),(5469,1.56),(5475,1.43),(5481,1.53),(5487,1.41),
(5493,1.54),(5499,1.4),(5505,1.52),(5511,1.4),(5517,1.5),(5523,1.38),(5529,1.5),(5535,1.4),(5541,1.46),(5547,1.38),
(5553,1.2),(5558,1.03),(5563,1.3),(5569,1.5),(5575,1.74),(5581,1.45),(5587,1.4),(5593,1.48),(5599,1.36),(5605,1.45),
(5611,1.33),(5617,1.44),(5623,1.32),(5629,1.42),(5635,1.3),(5641,1.42),(5647,1.3),(5653,1.4),(5659,1.28),(5665,1.39),
(5671,1.27),(5677,1.37),(5683,1.25),(5689,1.36),(5695,1.24),(5701,1.35),(5707,1.23),(5713,1.33),(5719,1.22),(5725,1.32),
(5731,1.2),(5737,1.31),(5743,1.2),(5749,1.3),(5755,1.18),(5761,1.29),(5767,1.17),(5773,1.28),(5779,1.18),(5785,1.28),
(5791,1.16),(5797,1.27),(5803,1.16),(5809,1.25),(5815,1.14),(5821,1.24),(5827,1.1),(5833,1.22),(5839,1.12),(5845,1.25),
(5851,1.1),(5857,1.2),(5863,1.05),(5869,0.95),(5875,0.85),(5881,0.75),(5887,1),(5893,1.15),(5899,1.22),(5905,1.12),
(5911,1.24),(5917,1.1),(5923,1.23),(5929,1.08),(5935,1.21),(5941,1.1),(5947,1.25),(5953,1.12),(5959,1.22),(5965,1.09),
(5971,1.2),(5977,1.12),(5983,1.24),(5989,1.1),(5995,1.22),(6001,1.08),(6007,1.2),(6013,1.1),(6019,1.21),(6025,1.08),
(6031,1.2),(6037,1.1),(6043,1.22),(6049,1.09),(6055,1.2),(6061,1.1),(6067,1.23),(6073,1.1),(6079,1.2),(6085,1.09),
(6091,1.18),(6097,1.08),(6103,1.2),(6109,1.1),(6115,1.22),(6121,1.09),(6127,1.25),(6133,1.1),(6139,1.2),(6145,1.08),
(6151,1.17),(6157,1.06),(6163,1.18),(6169,1.05),(6175,1.15),(6181,1.04),(6187,1.14),(6193,1.03),(6199,1.13),(6205,1.02),
(6211,1.15),(6225,1.25),(6239,1.12),(6253,1.2),(6267,1.08),(6281,1.17),(6295,1.05),(6309,1.13),(6323,1),(6337,1.08),
(6351,0.98),(6365,1.06),(6379,0.96),(6393,1.03),(6407,0.93),(6421,1.01),(6435,0.92),(6449,1),(6463,0.9),(6477,0.98),
(6491,0.88),(6505,0.97),(6519,0.87),(6533,0.95),(6547,0.86),(6561,0.94),(6575,0.87),(6589,0.96),(6603,0.86),(6617,0.95),
(6631,0.85),(6645,0.97),(6659,0.86),(6673,0.93),(6687,0.84),(6701,0.9),(6715,0.81),(6729,0.88),(6743,0.8),(6757,0.86),
(6771,0.78),(6785,0.85),(6799,0.77),(6813,0.83),(6827,0.76),(6841,0.82),(6855,0.75),(6869,0.8),(6883,0.74),(6897,0.8),
(6911,0.73),(6925,0.8),(6939,0.74),(6953,0.79),(6967,0.72),(6981,0.78),(6995,0.72),(7009,0.77),(7023,0.71),(7037,0.78),
(7051,0.72),(7065,0.77),(7079,0.7),(7093,0.76),(7107,0.69),(7121,0.75),(7135,0.68),(7149,0.74),(7163,0.68),(7177,0.72),
(7191,0.66),(7205,0.71),(7219,0.65),(7233,0.7),(7247,0.64),(7261,0.72),(7275,0.65),(7289,0.7),(7303,0.63),(7317,0.69),
(7331,0.62),(7345,0.68),(7359,0.61),(7373,0.66),(7387,0.6),(7401,0.67),(7415,0.6),(7429,0.65),(7443,0.59),(7457,0.64),
(7471,0.58),(7485,0.63),(7499,0.57),(7513,0.62),(7527,0.56),(7541,0.61),(7555,0.55),(7569,0.6),(7583,0.54),(7597,0.59),
(7611,0.53),(7625,0.58),(7639,0.52),(7653,0.57),(7667,0.51),(7681,0.56),(7695,0.52),(7709,0.57),(7723,0.51),(7737,0.58),
(7751,0.53),(7765,0.6),(7779,0.54),(7793,0.59),(7807,0.53),(7821,0.57),(7835,0.51),(7849,0.56),(7863,0.5),(7877,0.55),
(7891,0.49),(7905,0.54),(7919,0.48),(7933,0.53),(7947,0.47),(7961,0.52),(7975,0.47),(7989,0.51),(8003,0.46),(8017,0.51),
(8031,0.45),(8045,0.5),(8059,0.45),(8073,0.5),(8087,0.44),(8101,0.49),(8115,0.44),(8129,0.5),(8143,0.43),(8157,0.48),
(8171,0.42),(8185,0.47),(8199,0.41),(8213,0.46),(8227,0.41),(8241,0.46),(8255,0.4),(8269,0.45),(8283,0.4),(8297,0.44),
(8311,0.39),(8325,0.44),(8339,0.38),(8353,0.43),(8367,0.38),(8381,0.42),(8395,0.37),(8409,0.42),(8423,0.37),(8437,0.43),
(8451,0.38),(8465,0.42),(8479,0.36),(8493,0.41),(8507,0.36),(8521,0.4),(8535,0.35),(8549,0.4),(8563,0.35),(8577,0.39),
(8591,0.34),(8605,0.39),(8619,0.34),(8633,0.38),(8647,0.33),(8661,0.38),(8675,0.33),(8689,0.37),(8703,0.33),(8717,0.37),
(8731,0.32),(8745,0.37),(8759,0.32),(8773,0.36),(8787,0.32),(8801,0.36),(8815,0.31),(8829,0.36),(8843,0.31),(8857,0.35),
(8871,0.31),(8885,0.35),(8899,0.3),(8913,0.35),(8927,0.31),(8941,0.36),(8955,0.32),(8969,0.37),(8983,0.33),(8997,0.38),
(9011,0.34),(9025,0.38),(9039,0.35),(9053,0.39),(9067,0.36),(9081,0.4),(9095,0.37),(9109,0.41),(9123,0.38),(9137,0.42),
(9151,0.4),(9165,0.43),(9179,0.38),(9193,0.4),(9207,0.34),(9221,0.38),(9235,0.31),(9249,0.36),(9263,0.28),(9277,0.35),
(9291,0.26),(9305,0.33),(9319,0.22),(9333,0.3),(9347,0.2),(9361,0.32),(9375,0.15),(9389,0.28),(9403,0.12),(9417,0.3),
(9431,0.19),(9445,0.35),(9459,0.2),(9473,0.33),(9487,0.22),(9501,0.36),(9515,0.24),(9529,0.31),(9543,0.26),(9557,0.38),
(9571,0.22),(9585,0.34),(9599,0.25),(9613,0.4),(9627,0.23),(9641,0.33),(9655,0.26),(9669,0.37),(9683,0.22),(9697,0.35),
(9711,0.27),(9725,0.36),(9739,0.24),(9753,0.33),(9767,0.3),(9781,0.38),(9795,0.26),(9809,0.34),(9823,0.24),(9837,0.36),
(9851,0.27),(9865,0.35),(9879,0.23),(9893,0.37),(9907,0.25),(9921,0.33),(9935,0.2),(9945,0.01),(9955,0.3),(9969,0.36),
(9983,0.25),(9997,0.34),(10011,0.28),(10020,0.32)]

spec_5 = [
(3540,0.92),(3548,0.1),(3556,1.3),(3562,0.25),(3568,1.3),(3574,0),(3580,1.2),(3586,0.35),(3592,1.3),(3598,0),
(3604,1.3),(3610,0.15),(3616,0),(3622,1.3),(3628,0.5),(3634,0),(3640,1.3),(3646,0),(3652,0.9),(3658,0),
(3664,1.3),(3670,0.2),(3676,0),(3682,1.1),(3688,0.3),(3694,0.9),(3700,0.24),(3706,0.8),(3712,0.4),(3718,0.92),
(3724,0.26),(3730,0.85),(3736,0.45),(3742,0.78),(3750,1.15),(3757,0.5),(3764,0.86),(3771,0.3),(3778,0.95),(3785,0.45),
(3792,1.05),(3799,0.5),(3806,0.78),(3813,0.27),(3820,0.88),(3827,0.52),(3834,0.7),(3841,0.4),(3848,0.9),(3855,0.55),
(3862,0.75),(3869,0.42),(3876,0.83),(3883,0.5),(3890,1.12),(3897,0.46),(3904,0.72),(3911,0.35),(3918,0.82),(3925,0.55),
(3932,0.68),(3939,0.3),(3946,0.92),(3953,0.5),(3960,0.76),(3967,0.45),(3974,0.65),(3981,0.28),(3988,0.8),(3995,0.52),
(4002,0.74),(4012,0.45),(4022,0.7),(4032,0.5),(4042,0.66),(4052,0.27),(4062,0.7),(4072,0.48),(4082,0.92),(4092,0.5),
(4102,0.68),(4112,0.44),(4122,0.74),(4132,0.52),(4142,0.65),(4152,0.4),(4162,0.71),(4172,0.5),(4182,0.62),(4192,0.43),
(4202,0.72),(4212,0.49),(4222,0.64),(4232,0.38),(4242,0.7),(4252,0.5),(4262,0.63),(4272,0.42),(4282,0.68),(4292,0.47),
(4302,0.61),(4312,0.45),(4322,0.7),(4332,0.48),(4342,0.62),(4352,0.4),(4362,0.66),(4372,0.5),(4382,0.6),(4392,0.44),
(4402,0.68),(4412,0.47),(4422,0.58),(4432,0.4),(4442,0.65),(4452,0.46),(4462,0.6),(4472,0.38),(4482,0.64),(4492,0.45),
(4502,0.57),(4512,0.42),(4522,0.62),(4532,0.44),(4542,0.56),(4552,0.37),(4562,0.61),(4572,0.43),(4582,0.55),(4592,0.39),
(4602,0.6),(4612,0.42),(4622,0.54),(4632,0.36),(4642,0.58),(4652,0.41),(4662,0.53),(4672,0.35),(4682,0.57),(4692,0.4),
(4702,0.52),(4712,0.37),(4722,0.58),(4732,0.39),(4742,0.51),(4752,0.34),(4762,0.55),(4772,0.38),(4782,0.5),(4792,0.36),
(4802,0.54),(4812,0.37),(4822,0.49),(4832,0.33),(4842,0.55),(4852,0.36),(4862,0.48),(4872,0.34),(4882,0.52),(4892,0.35),
(4902,0.47),(4912,0.32),(4922,0.53),(4932,0.34),(4942,0.46),(4952,0.31),(4962,0.5),(4972,0.33),(4982,0.45),(4992,0.3),
(5002,0.41),(5014,0.27),(5026,0.4),(5038,0.26),(5050,0.38),(5062,0.24),(5074,0.4),(5086,0.28),(5098,0.37),(5110,0.25),
(5122,0.39),(5134,0.27),(5146,0.36),(5158,0.22),(5170,0.38),(5182,0.27),(5194,0.35),(5206,0.24),(5218,0.37),(5230,0.26),
(5242,0.34),(5254,0.22),(5266,0.36),(5278,0.26),(5290,0.33),(5302,0.23),(5314,0.35),(5326,0.25),(5338,0.32),(5350,0.21),
(5362,0.34),(5374,0.24),(5386,0.31),(5398,0.2),(5410,0.33),(5422,0.24),(5434,0.3),(5446,0.2),(5458,0.32),(5470,0.23),
(5482,0.29),(5494,0.19),(5506,0.31),(5518,0.22),(5530,0.28),(5542,0.18),(5554,0.3),(5566,0.24),(5574,1.05),(5580,0.25),
(5590,0.3),(5602,0.2),(5614,0.28),(5626,0.17),(5638,0.3),(5650,0.2),(5662,0.27),(5674,0.13),(5686,0.29),(5698,0.2),
(5710,0.26),(5722,0.16),(5734,0.3),(5746,0.19),(5758,0.25),(5770,0.15),(5782,0.28),(5794,0.18),(5806,0.25),(5818,0.16),
(5830,0.27),(5842,0.19),(5854,0.24),(5866,0.17),(5878,0.3),(5890,0.48),(5898,0.2),(5910,0.27),(5922,0.17),(5934,0.25),
(5946,0.15),(5958,0.26),(5970,0.18),(5982,0.24),(5994,0.14),(6005,0.25),(6020,0.16),(6035,0.23),(6050,0.14),(6065,0.24),
(6080,0.15),(6095,0.22),(6110,0.13),(6125,0.23),(6140,0.15),(6155,0.21),(6170,0.12),(6185,0.22),(6200,0.14),(6215,0.2),
(6230,0.12),(6245,0.21),(6260,0.13),(6275,0.19),(6290,0.1),(6305,0.2),(6320,0.12),(6335,0.18),(6350,0.1),(6365,0.19),
(6380,0.11),(6395,0.17),(6410,0.09),(6425,0.18),(6440,0.11),(6455,0.16),(6470,0.08),(6485,0.17),(6500,0.1),(6515,0.15),
(6530,0.08),(6545,0.16),(6560,0.09),(6575,0.14),(6590,0.07),(6605,0.15),(6620,0.09),(6635,0.13),(6650,0.06),(6665,0.14),
(6680,0.08),(6695,0.12),(6710,0.06),(6725,0.13),(6740,0.07),(6755,0.12),(6770,0.05),(6785,0.13),(6800,0.07),(6815,0.11),
(6830,0.05),(6845,0.12),(6860,0.06),(6875,0.1),(6890,0.04),(6905,0.11),(6920,0.06),(6935,0.1),(6950,0.04),(6965,0.11),
(6980,0.05),(6995,0.09),(7010,0.04),(7025,0.1),(7040,0.05),(7055,0.09),(7070,0.03),(7085,0.1),(7100,0.05),(7115,0.08),
(7130,0.02),(7145,0.09),(7160,0.05),(7175,0.08),(7190,0.03),(7205,0.09),(7220,0.04),(7235,0.08),(7250,0),(7265,0.09),
(7280,0.04),(7295,0.08),(7310,0.03),(7325,0.07),(7340,0.03),(7355,0.08),(7370,0.04),(7385,0.07),(7400,0.02),(7415,0.08),
(7430,0.04),(7445,0.07),(7460,0.02),(7475,0.07),(7490,0.03),(7505,0.08),(7520,0.03),(7535,0.07),(7550,0.02),(7565,0.06),
(7580,0.03),(7600,0.08),(7620,0.02),(7640,0.06),(7660,0.03),(7680,0.07),(7700,0.02),(7720,0.06),(7740,0.01),(7760,0.07),
(7780,0.03),(7800,0.06),(7820,0.02),(7840,0.07),(7860,0.03),(7880,0.05),(7900,0.01),(7920,0.06),(7940,0.02),(7960,0.05),
(7980,0),(8000,0.06),(8020,0.02),(8040,0.05),(8060,0.01),(8080,0.06),(8100,0.02),(8120,0.05),(8140,0),(8160,0.06),
(8180,0.02),(8200,0.05),(8220,0.01),(8240,0.07),(8260,0.02),(8280,0.04),(8300,0),(8320,0.05),(8340,0.02),(8360,0.06),
(8380,0.01),(8400,0.05),(8420,0.02),(8440,0.04),(8460,0),(8480,0.05),(8500,0.02),(8520,0.06),(8540,0.01),(8560,0.04),
(8580,0.02),(8600,0.05),(8620,0),(8640,0.05),(8660,0.02),(8680,0.04),(8700,0.01),(8720,0.05),(8740,0.02),(8760,0.06),
(8780,0.01),(8800,0.04),(8820,0.02),(8840,0.05),(8860,0),(8880,0.04),(8900,0.02),(8920,0.05),(8940,0.01),(8960,0.04),
(8980,0.02),(9000,0.06),(9020,0.01),(9040,0.04),(9060,0.02),(9080,0.05),(9100,0),(9120,0.04),(9140,0.02),(9160,0.05),
(9180,0.01),(9200,0.04),(9220,0.02),(9240,0.06),(9260,0),(9280,0.05),(9300,0.02),(9320,0.04),(9340,0),(9360,0.05),
(9380,0.01),(9400,0.06),(9420,0),(9432,0.12),(9442,0.01),(9452,0.17),(9462,0.02),(9472,0.1),(9482,0),(9494,0.15),
(9504,0.02),(9514,0.08),(9526,0),(9540,0.01),(9560,0.05),(9580,0),(9600,0.04),(9620,0.01),(9640,0.05),(9660,0),
(9680,0.04),(9700,0.02),(9720,0.05),(9740,0),(9760,0.04),(9780,0.01),(9800,0.06),(9820,0),(9840,0.05),(9860,0.02),
(9880,0.08),(9890,0),(9900,0.12),(9910,0.01),(9920,0.2),(9930,0.03),(9940,0.09),(9950,0),(9960,0.15),(9970,0.02),
(9980,0.1),(9990,0.04),(10000,0.12),(10010,0.03),(10020,0.08)]

spec_6 = [
(3534,0.2),(3540,1),(3546,0),(3552,1.6),(3557,0.3),(3563,2.7),(3568,0.5),(3574,1.2),(3580,0.1),(3586,0.7),
(3592,0.47),(3598,0),(3604,0.9),(3610,0.2),(3616,1.1),(3621,0.88),(3627,0.1),(3633,0.6),(3639,0),(3644,1.1),
(3650,1.7),(3656,0.4),(3662,0),(3668,0.8),(3673,0.2),(3679,0.47),(3685,0.9),(3691,0),(3697,0.6),(3702,0.1),
(3708,0.88),(3714,0.3),(3720,0.7),(3726,0),(3732,0.5),(3738,0.19),(3744,0.9),(3750,0),(3756,0.6),(3761,0.2),
(3767,0.81),(3773,0),(3779,0.5),(3785,0.1),(3790,0.7),(3796,0.33),(3802,0),(3808,0.6),(3814,0.2),(3819,0.5),
(3825,0.88),(3831,0.1),(3837,0.4),(3843,0),(3848,0.3),(3854,0.05),(3860,0.6),(3866,0.2),(3872,0.9),(3877,0.3),
(3883,0.74),(3889,0.1),(3895,0.5),(3901,0),(3907,0.4),(3913,0.33),(3918,0.7),(3924,0.2),(3930,0.88),(3936,1.5),
(3942,3.2),(3947,1),(3953,3.1),(3959,2),(3965,3.5),(3971,4.3),(3976,2.2),(3982,3.6),(3988,2.55),(3994,4.1),
(4000,4.9),(4006,3),(4011,2),(4017,0.8),(4023,2.5),(4029,3.8),(4035,3.25),(4041,2),(4047,3.6),(4052,2.6),
(4058,1.5),(4064,2.8),(4070,4.2),(4076,3),(4081,2.2),(4087,3.25),(4093,4.4),(4099,4.8),(4105,5.05),(4111,3.5),
(4117,4.2),(4122,2.8),(4128,3.6),(4134,4.6),(4140,5.05),(4146,4),(4151,2.5),(4157,1.3),(4163,1.3),(4169,2.6),
(4175,3.25),(4181,4.1),(4187,4.9),(4193,3.7),(4199,4.6),(4204,4.9),(4210,3.9),(4216,5.05),(4222,4.5),(4227,3.5),
(4233,2.6),(4239,3.95),(4245,3.2),(4251,4.5),(4256,5.05),(4262,4.2),(4268,3.8),(4274,4.6),(4280,4.85),(4286,4),
(4291,4.4),(4297,4.85),(4303,4.2),(4309,4.7),(4315,4.6),(4321,3.8),(4326,2.9),(4332,3.4),(4338,1.5),(4344,0),
(4350,0),(4355,2.5),(4361,3.9),(4367,3.6),(4373,2.9),(4379,3.4),(4385,3.85),(4391,3),(4396,3.3),(4402,2.5),
(4408,3.6),(4414,2.8),(4420,2.2),(4426,1.85),(4432,2.9),(4437,3.5),(4443,3.8),(4449,4.1),(4455,4.4),(4460,4.6),
(4466,4),(4472,3.5),(4478,3.25),(4484,2),(4490,1),(4496,0.5),(4501,0),(4507,0),(4513,0.6),(4519,1),
(4525,1.8),(4531,2.8),(4537,3.5),(4543,3.7),(4548,3.85),(4554,4),(4560,3.9),(4566,4.1),(4571,4.1),(4577,3.9),
(4583,4),(4589,3.95),(4595,4),(4601,3.9),(4607,3.85),(4612,3.95),(4618,3.8),(4624,3.7),(4630,3.75),(4636,3.6),
(4641,3.8),(4647,3.5),(4653,3.6),(4659,3.45),(4664,3.5),(4670,3.5),(4676,3.3),(4682,3.2),(4688,3.25),(4694,3),
(4700,2.8),(4705,2.55),(4711,2.55),(4717,2.2),(4723,2),(4729,1.85),(4735,1.6),(4741,1.3),(4746,1.85),(4752,1.2),
(4758,0.9),(4764,1.1),(4770,1),(4776,0.7),(4782,0.5),(4788,0.4),(4794,0.33),(4800,0.2),(4805,0.33),(4811,0.15),
(4817,0.1),(4823,0.05),(4828,0.05),(4834,0),(4840,0),(4845,0),(4851,0.3),(4857,0.6),(4863,0.8),(4869,1),
(4875,1),(4881,1.5),(4887,1.9),(4892,2.2),(4898,2.2),(4904,1.8),(4910,1.5),(4915,1.5),(4921,1.8),(4927,2.1),
(4933,2.1),(4939,1.4),(4945,0.9),(4950,0.47),(4956,0.47),(4962,1.2),(4968,1.8),(4974,2.1),(4979,2.1),(4985,1.6),
(4991,1),(4997,0.7),(5003,0.47),(5009,0.3),(5014,0.1),(5020,0),(5026,0),(5032,0.5),(5038,1.2),(5043,1.8),
(5049,2.1),(5055,2.3),(5061,2.5),(5067,2.6),(5073,2.5),(5079,2.2),(5084,1.8),(5090,1.5),(5096,1.5),(5102,1.1),
(5108,0.8),(5114,0.6),(5119,0.47),(5125,0.3),(5131,0.15),(5137,0.05),(5143,0),(5148,0),(5154,0),(5160,0.8),
(5166,1.8),(5172,2.55),(5178,2.9),(5184,3.1),(5189,3.3),(5195,3.3),(5201,3.6),(5207,3.7),(5213,3.75),(5219,3.7),
(5224,3.65),(5230,3.7),(5236,3.65),(5242,3.55),(5248,3.6),(5253,3.5),(5259,3.5),(5265,3.4),(5271,3.5),(5277,3.35),
(5283,3.45),(5289,3.3),(5295,3.45),(5300,3.35),(5306,3.4),(5312,3.4),(5318,3.25),(5324,2.9),(5329,3.3),(5335,2.4),
(5341,2),(5346,2.8),(5352,3),(5358,3.25),(5364,3),(5370,2.9),(5376,3.03),(5381,2.8),(5387,2.9),(5393,2.75),
(5399,2.9),(5405,2.8),(5411,3.1),(5416,2.95),(5422,3.2),(5428,3.25),(5434,3),(5440,2.85),(5446,3),(5452,2.8),
(5458,2.7),(5464,2.9),(5470,3.05),(5476,2.9),(5482,3.1),(5487,3.25),(5493,2.6),(5499,2),(5504,1.5),(5510,2.3),
(5516,2.9),(5521,2),(5527,1.3),(5533,2.3),(5539,3),(5545,2.9),(5551,3.03),(5556,3.5),(5562,4.3),(5568,3.5),
(5574,2.8),(5580,2.9),(5586,2.75),(5592,2.85),(5597,2.65),(5603,2.75),(5609,2.6),(5615,2.8),(5621,2.7),(5627,3),
(5632,2.5),(5638,1.8),(5644,1.3),(5650,2.2),(5656,2.8),(5662,2.6),(5667,2.9),(5673,2.7),(5679,2.65),(5685,2.7),
(5691,2.55),(5697,2.7),(5703,2.6),(5709,2.75),(5715,2.6),(5720,2.7),(5726,2.55),(5732,2.65),(5738,2.6),(5744,2.8),
(5749,2.65),(5755,2.7),(5761,2.6),(5767,2.75),(5773,2.65),(5779,2.8),(5785,2.7),(5790,2.85),(5796,2.8),(5802,2.9),
(5807,2.83),(5813,2.95),(5819,2.9),(5825,3),(5831,3.1),(5837,3.2),(5843,3.3),(5849,3.4),(5854,3.5),(5860,3.2),
(5866,3),(5872,2.9),(5877,3.05),(5883,2.7),(5889,2.55),(5895,2.6),(5901,2.4),(5907,2.55),(5912,2.55),(5918,2.3),
(5924,2.45),(5930,2.4),(5936,2.25),(5941,2.5),(5947,2.3),(5953,2.35),(5959,2.2),(5965,2.4),(5971,2.25),(5976,2.35),
(5982,2.45),(5988,2.3),(5994,2.2),(6000,2.1),(6005,2),(6011,2.13),(6017,2.3),(6023,2.1),(6029,2.35),(6035,2.2),
(6041,2.4),(6047,2.1),(6053,1.7),(6058,2),(6064,2.3),(6070,2.25),(6076,2.4),(6082,2.15),(6088,2.3),(6093,2),
(6099,2.06),(6105,2.3),(6111,2.1),(6117,2.35),(6122,2.15),(6128,2.25),(6134,2),(6140,1.8),(6145,1.7),(6151,1.3),
(6157,1),(6162,1.5),(6168,2),(6174,2.2),(6180,2),(6186,2.27),(6192,2.1),(6198,2.3),(6204,2.1),(6210,2.35),
(6215,2.25),(6221,2.05),(6227,2.3),(6233,2.15),(6239,2.35),(6245,2.15),(6250,2.3),(6256,2.1),(6262,2.2),(6268,1.9),
(6274,2.2),(6280,2.3),(6286,2.05),(6292,2.25),(6297,2.1),(6303,2.27),(6309,2.1),(6315,2.3),(6321,2.15),(6327,2.4),
(6332,2.47),(6338,2.2),(6344,2.5),(6350,2.3),(6356,2.2),(6361,2.35),(6367,2.52),(6373,2.15),(6379,2.4),(6385,2.2),
(6390,1.7),(6396,2.1),(6402,2.3),(6408,2.15),(6414,2.4),(6419,2.2),(6425,2.35),(6431,2.25),(6437,2.45),(6443,2.3),
(6449,2.55),(6455,2.3),(6461,2.5),(6467,2.35),(6472,2.6),(6478,2.4),(6484,2.55),(6490,2.3),(6496,2.2),(6502,2.35),
(6507,2.2),(6513,2.35),(6519,2.1),(6525,2.25),(6531,2),(6536,2.2),(6542,1.95),(6548,2.15),(6554,2),(6560,2.1),
(6565,2.05),(6571,1.9),(6577,2.05),(6583,1.85),(6589,1.95),(6594,1.7),(6600,1.9),(6606,1.65),(6612,1.85),(6618,1.7),
(6624,1.5),(6630,1.8),(6636,1.95),(6642,2),(6648,1.85),(6653,2),(6659,1.9),(6665,2.05),(6671,1.95),(6677,2.1),
(6682,1.9),(6690,2.05),(6700,1.9),(6710,2.07),(6720,1.95),(6730,2),(6740,1.9),(6750,1.85),(6760,1.95),(6770,1.75),
(6780,1.9),(6790,1.7),(6798,1.85),(6808,1.75),(6818,1.95),(6828,1.6),(6838,1.86),(6848,1.54),(6857,1.85),(6867,1.7),
(6877,1.9),(6887,1.75),(6897,1.85),(6907,1.7),(6915,1.8),(6925,1.86),(6935,1.7),(6945,1.9),(6955,1.75),(6965,1.85),
(6975,1.7),(6985,1.8),(6995,1.65),(7005,1.85),(7015,1.7),(7025,1.82),(7035,1.68),(7045,1.8),(7055,1.7),(7065,1.79),
(7075,1.6),(7085,1.4),(7095,1.2),(7105,1.6),(7115,1.75),(7125,1.85),(7135,1.7),(7145,1.9),(7155,1.75),(7165,1.85),
(7175,1.7),(7183,1.79),(7193,1.65),(7203,1.85),(7213,1.7),(7223,1.9),(7233,1.75),(7243,1.8),(7253,1.6),(7263,1.85),
(7273,1.7),(7283,1.95),(7293,1.8),(7300,2.07),(7310,1.7),(7320,1.85),(7330,1.6),(7340,1.75),(7350,1.65),(7358,1.72),
(7368,1.6),(7378,1.78),(7388,1.65),(7398,1.75),(7408,1.6),(7418,1.78),(7428,1.62),(7438,1.75),(7448,1.58),(7458,1.72),
(7468,1.6),(7475,1.68),(7485,1.55),(7495,1.72),(7505,1.6),(7515,1.75),(7525,1.58),(7535,1.7),(7545,1.55),(7555,1.68),
(7565,1.58),(7575,1.72),(7585,1.6),(7592,1.65),(7602,1.55),(7612,1.7),(7622,1.6),(7632,1.75),(7642,1.62),(7652,1.8),
(7662,1.7),(7672,1.95),(7679,2.14),(7686,1.8),(7696,1.7),(7706,1.85),(7716,1.7),(7726,1.9),(7736,1.75),(7746,1.85),
(7756,1.7),(7767,1.86),(7777,1.75),(7787,1.9),(7797,1.72),(7807,1.85),(7817,1.7),(7827,1.82),(7837,1.68),(7847,1.85),
(7857,1.7),(7867,1.8),(7877,1.65),(7884,1.75),(7894,1.85),(7904,1.7),(7914,1.9),(7924,1.75),(7934,1.88),(7944,1.72),
(7954,1.9),(7964,1.78),(7974,1.93),(7984,1.8),(7994,1.95),(8000,1.85),(8010,1.9),(8020,1.75),(8030,1.85),(8040,1.7),
(8050,1.78),(8060,1.6),(8070,1.7),(8080,1.55),(8090,1.65),(8100,1.5),(8110,1.6),(8117,1.51),(8127,1.4),(8137,1.6),
(8147,1.45),(8157,1.55),(8167,1.3),(8177,1.5),(8187,1.38),(8197,1.55),(8207,1.35),(8217,1.5),(8227,1.3),(8234,1.44),
(8244,1.25),(8254,1.5),(8264,1.35),(8274,1.55),(8284,1.3),(8294,1.45),(8304,1.25),(8314,1.48),(8324,1.3),(8334,1.52),
(8344,1.28),(8351,1.37),(8361,1.2),(8371,1.45),(8381,1.3),(8391,1.6),(8401,1.25),(8411,1.45),(8421,1.3),(8431,1.55),
(8441,1.35),(8451,1.5),(8461,1.25),(8468,1.44),(8478,1.55),(8488,1.3),(8498,1.5),(8508,1.2),(8518,1.4),(8528,1.25),
(8538,1.45),(8548,1.2),(8558,1.4),(8568,1.28),(8578,1.5),(8584,1.3),(8594,1.45),(8604,1.25),(8614,1.42),(8624,1.2),
(8634,1.38),(8644,1.15),(8654,1.35),(8664,1.25),(8674,1.5),(8684,1.3),(8694,1.45),(8701,1.3),(8711,1.5),(8721,1.4),
(8731,1.6),(8741,1.45),(8751,1.8),(8760,2.14),(8770,1.6),(8780,1.35),(8790,1.55),(8800,1.3),(8810,1.45),(8818,1.23),
(8828,1.4),(8838,1.2),(8848,1.35),(8858,1.15),(8868,1.25),(8876,1.02),(8886,1.2),(8896,1.35),(8906,1.25),(8916,1.45),
(8926,1.3),(8935,1.45),(8945,1.35),(8955,1.5),(8965,1.4),(8975,1.6),(8985,1.5),(8993,1.86),(9003,1.55),(9013,1.4),
(9023,1.5),(9033,1.35),(9043,1.45),(9052,1.37),(9062,1.3),(9072,1.4),(9082,1.3),(9092,1.42),(9102,1.28),(9112,1.38),
(9122,1.3),(9132,1.4),(9142,1.28),(9152,1.35),(9162,1.3),(9168,1.32),(9178,1.25),(9188,1.35),(9198,1.2),(9208,1.3),
(9218,1.18),(9228,1.28),(9238,1.15),(9248,1.25),(9258,1.1),(9268,1.2),(9278,1.05),(9285,1.09),(9292,1.4),(9300,1.1),
(9307,1.6),(9314,2.27),(9321,1.5),(9328,1),(9335,1.3),(9342,0.8),(9348,0.5),(9355,0.19),(9362,0.6),(9369,1.2),
(9376,1),(9383,1.4),(9390,1.1),(9396,1.6),(9402,1.5),(9408,1.3),(9415,1.75),(9422,1.4),(9429,1.9),(9436,1.5),
(9442,2.2),(9449,2.66),(9456,1.8),(9463,1.3),(9470,1.55),(9477,1.2),(9484,1.4),(9490,1.1),(9498,1.2),(9506,0.95),
(9514,1.15),(9522,1),(9530,1.2),(9538,0.9),(9546,1.1),(9554,0.95),(9562,1.15),(9570,0.9),(9577,0.95),(9585,1.1),
(9593,0.85),(9601,1.05),(9609,0.92),(9617,1.12),(9625,0.95),(9633,1.2),(9641,1),(9649,1.15),(9657,0.95),(9665,1.1),
(9673,0.9),(9681,1.15),(9689,1.05),(9694,1.16),(9702,0.95),(9710,1.1),(9718,0.9),(9726,1.15),(9734,1),(9742,1.2),
(9750,1),(9758,1.15),(9766,0.9),(9774,1.25),(9782,1.05),(9790,1.2),(9798,0.95),(9806,1.1),(9811,1),(9819,1.2),
(9827,1.05),(9835,1.25),(9843,1.1),(9851,1.3),(9859,1.15),(9867,1.4),(9875,0.9),(9881,0.74),(9888,1.3),(9895,1.5),
(9902,1.35),(9909,1.65),(9916,1.45),(9922,1.7),(9928,1.65),(9934,1.8),(9940,1.55),(9946,1.85),(9952,1.7),(9957,2.34),
(9963,1.8),(9969,1.65),(9975,1.85),(9980,1.5),(9986,1.37),(9992,1.7),(9998,1.85),(10004,1.6),(10010,2),(10015,2.41),
(10020,1.8)]

spectra = [spec_1, spec_2, spec_3, spec_4, spec_5, spec_6]

# ---------------- layout geometry (pixels) ----------------
cols_px = [(105, 475), (547, 916.5), (989, 1358.5)]
rows_px = [(3, 253), (355.7, 606)]
label_pos = [(320, 66), (757, 67.5), (1203, 70), (320, 410), (762, 390), (1198, 384.5)]

AX = "#333333"
fig = go.Figure()
layout = dict(width=W, height=H, margin=dict(l=0, r=0, t=0, b=0),
              paper_bgcolor="white", plot_bgcolor="white", showlegend=False,
              font=dict(family=FONT, color="black"), annotations=[])

for i, spec in enumerate(spectra):
    r, c = divmod(i, 3)
    sfx = "" if i == 0 else str(i + 1)
    wl = [p[0] for p in spec]
    fl = [p[1] for p in spec]
    fig.add_trace(go.Scatter(x=wl, y=fl, mode="lines", line=dict(color="black", width=1.15),
                             xaxis="x" + sfx, yaxis="y" + sfx, hoverinfo="skip"))
    x0, x1 = cols_px[c]
    y0, y1 = rows_px[r]
    common = dict(showline=True, linecolor=AX, linewidth=1.3, mirror="allticks",
                  ticks="inside", ticklen=18, tickwidth=1.3, tickcolor=AX,
                  showgrid=False, zeroline=False, automargin=False,
                  tickfont=dict(family=FONT, size=25, color="black"))
    layout["xaxis" + sfx] = dict(domain=[x0 / W, x1 / W], anchor="y" + sfx, range=x_range,
                                 tickvals=x_ticks, ticktext=[str(v) for v in x_ticks],
                                 ticklabelstandoff=3 if r == 0 else 0,
                                 minor=dict(dtick=500, tick0=4000, ticklen=7, tickwidth=1.3,
                                            tickcolor=AX, ticks="inside", showgrid=False),
                                 **common)
    layout["yaxis" + sfx] = dict(domain=[1 - y1 / H, 1 - y0 / H], anchor="x" + sfx,
                                 range=y_ranges[i], tick0=0, dtick=y_dtick[i],
                                 tickformat=".1f" if i == 4 else "d",
                                 minor=dict(dtick=y_minor[i], tick0=0, ticklen=7, tickwidth=1.3,
                                            tickcolor=AX, ticks="inside", showgrid=False),
                                 **common)
    lx, ly = label_pos[i]
    layout["annotations"].append(dict(text=names[i], x=lx / W, y=1 - ly / H, xref="paper", yref="paper",
                                      xanchor="center", yanchor="middle", showarrow=False,
                                      font=dict(family=FONT, size=19.5, color="black")))

layout["annotations"].append(dict(
    text="f<sub>\u03bb</sub> (10<sup>\u221217</sup> erg s<sup>\u22121</sup> cm<sup>\u22122</sup> \u00c5<sup>\u22121</sup>)",
    x=27 / W, y=1 - 312 / H, xref="paper", yref="paper", textangle=-90,
    xanchor="center", yanchor="middle", showarrow=False,
    font=dict(family=FONT, size=34, color="black")))
layout["annotations"].append(dict(
    text="Wavelength (\u00c5)", x=736 / W, y=1 - 700 / H, xref="paper", yref="paper",
    xanchor="center", yanchor="middle", showarrow=False,
    font=dict(family=FONT, size=31, color="black")))

fig.update_layout(**layout)
fig.write_html("out.html")
